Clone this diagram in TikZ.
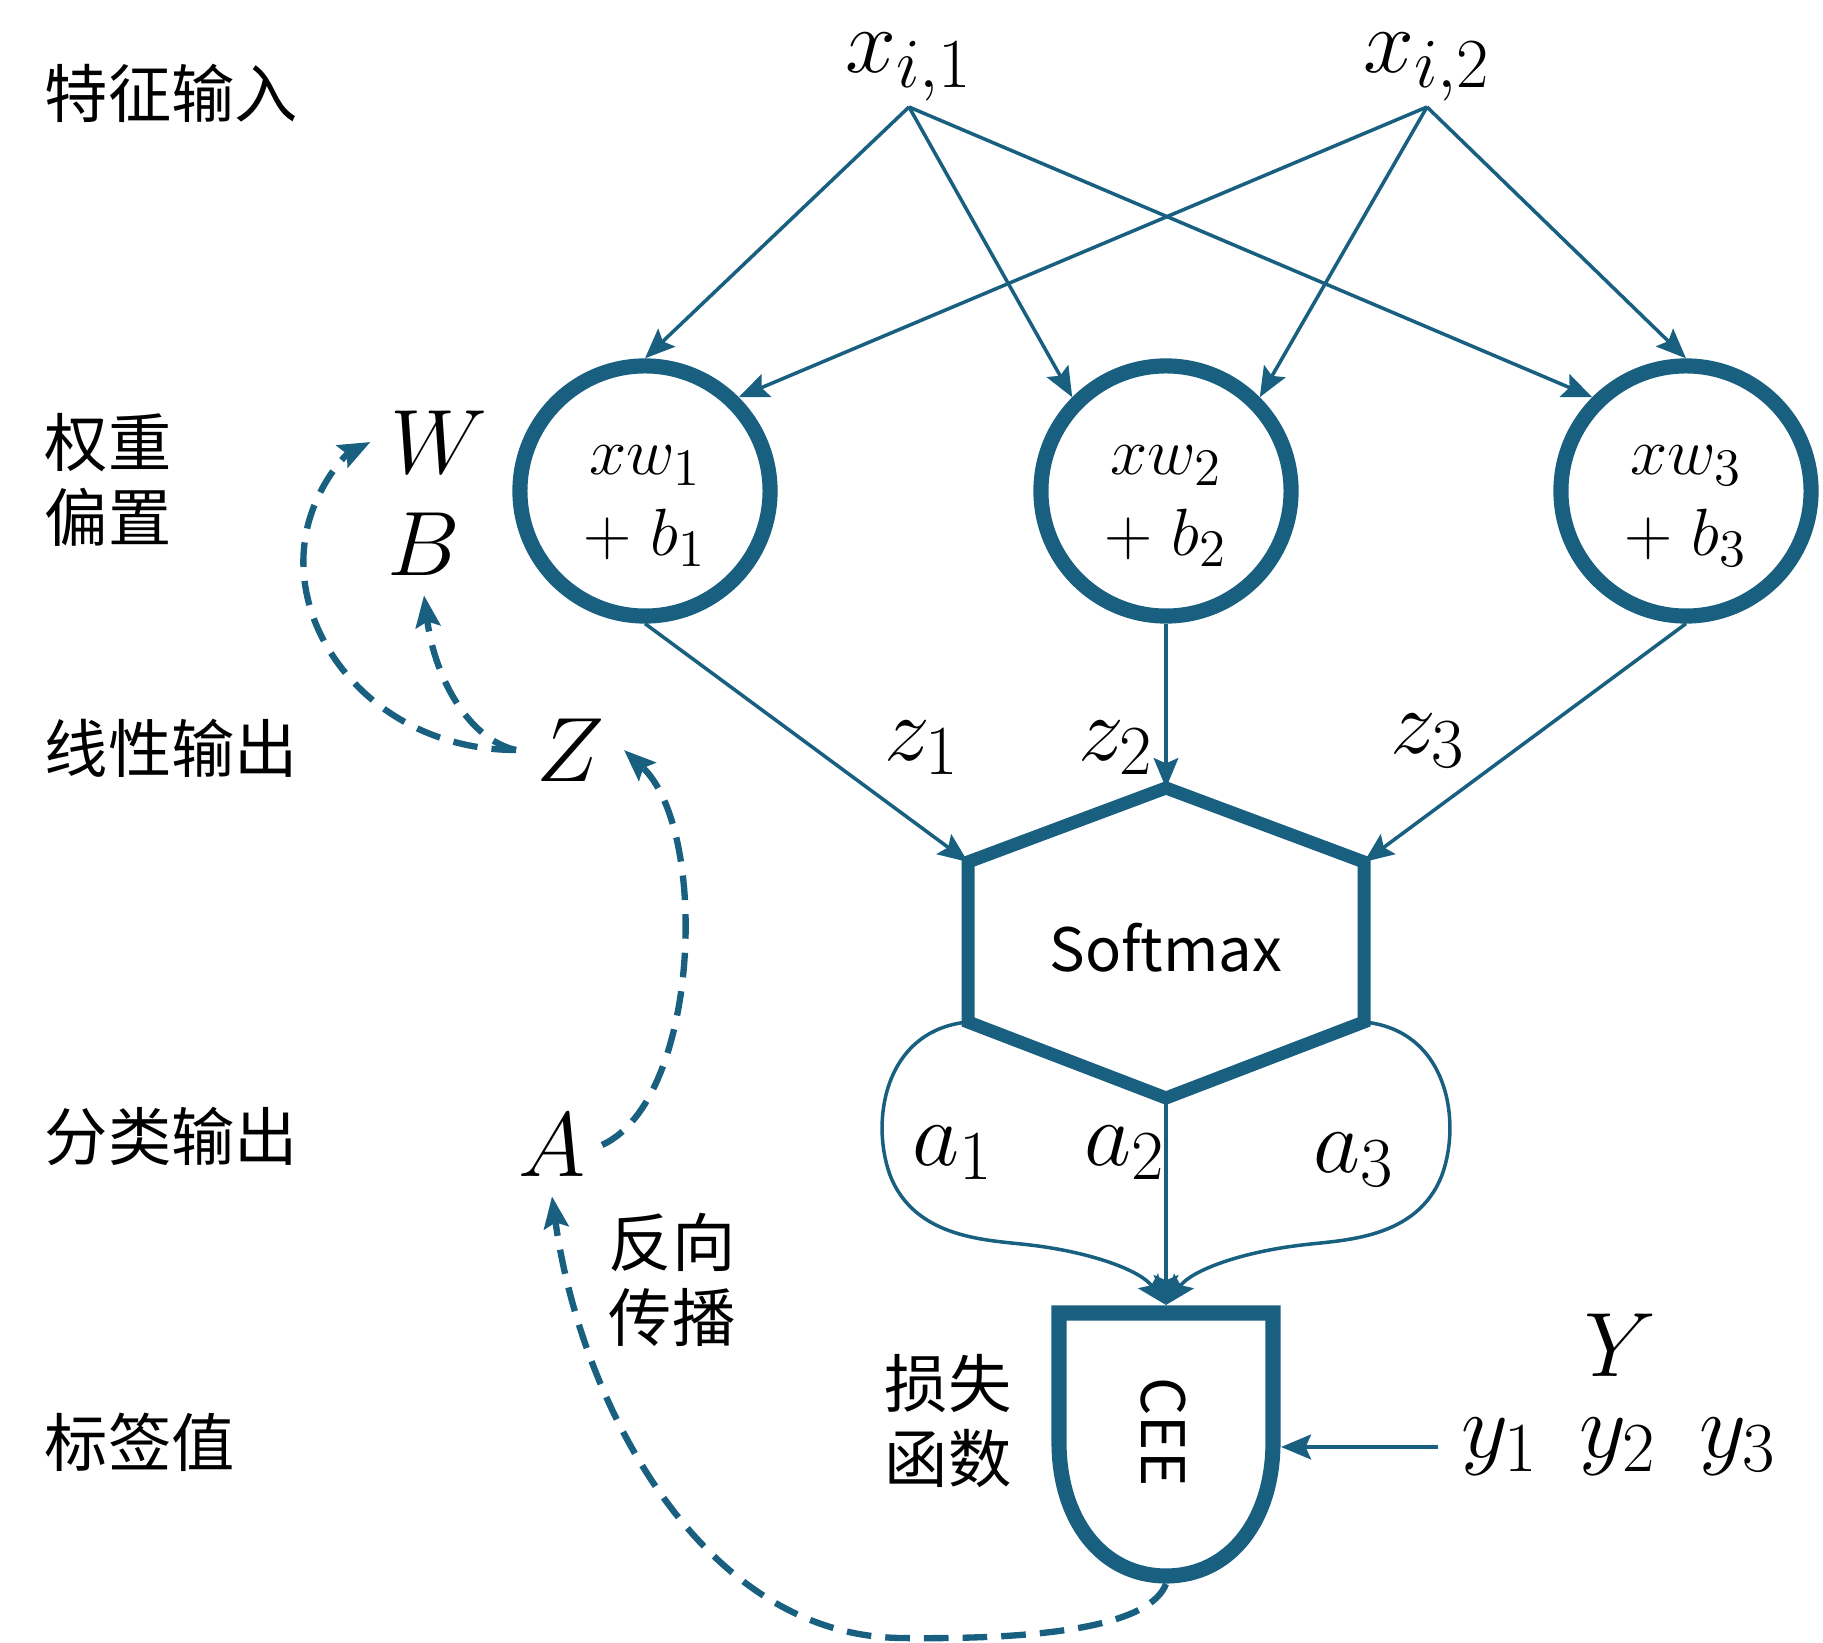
\RequirePackage{fix-cm}
\documentclass[tikz,border=0pt]{standalone}
\usepackage{fontspec}
\newfontfamily\cjk{Noto Sans CJK SC}
\usetikzlibrary{arrows.meta,positioning,calc}
\definecolor{nnblue}{RGB}{24,95,128}
\DeclareMathSizes{26}{26}{20}{15}
\DeclareMathSizes{19}{19}{15}{11}

\begin{document}
\begin{tikzpicture}[x=0.01cm,y=-0.01cm,
  layer/.style={font=\cjk\fontsize{18}{21.5}\selectfont, anchor=west, align=left, inner sep=0pt},
  var/.style={font=\fontsize{26}{30}\selectfont, inner sep=1.5pt},
  neuron/.style={circle, draw=nnblue, line width=4.3pt, minimum size=2.5cm, inner sep=0pt,
    align=center, font=\fontsize{19}{23}\selectfont},
  link/.style={nnblue, line width=1pt, -{Stealth[length=8.5pt,width=7pt,inset=1.5pt]}},
  back/.style={nnblue, line width=1.8pt, dash pattern=on 7pt off 4pt,
    -{Stealth[length=9pt,width=7pt,inset=1.5pt]}},
]
  \useasboundingbox (0,0) rectangle (1823,1643);
  % layer names on the left
  \node[layer] (l1) at (44,93) {特征输入};
  \node[layer] (l2) at (44,480) {权重\\偏置};
  \node[layer] (l3) at (44,748) {线性输出};
  \node[layer] (l4) at (44,1136) {分类输出};
  \node[layer] (l5) at (44,1442) {标签值};
  % inputs
  \node[var, anchor=south] (x1) at (909,107) {$x_{i,1}$};
  \node[var, anchor=south] (x2) at (1427,107) {$x_{i,2}$};
  % neurons
  \node[neuron] (c1) at (645,491) {\rule{0pt}{17pt}$xw_1$\\$+\;b_1$};
  \node[neuron] (c2) at (1166,491) {\rule{0pt}{17pt}$xw_2$\\$+\;b_2$};
  \node[neuron] (c3) at (1686,491) {\rule{0pt}{17pt}$xw_3$\\$+\;b_3$};
  \draw[link] (x1.south) -- (c1.north);
  \draw[link] (x1.south) -- (c2.135);
  \draw[link] (x1.south) -- (c3.135);
  \draw[link] (x2.south) -- (c1.45);
  \draw[link] (x2.south) -- (c2.45);
  \draw[link] (x2.south) -- (c3.north);
  % softmax block
  \coordinate (ht) at (1166,788);
  \coordinate (hul) at (968,862);
  \coordinate (hur) at (1364,862);
  \coordinate (hll) at (968,1022);
  \coordinate (hlr) at (1364,1022);
  \coordinate (hb) at (1166,1098);
  \draw[nnblue, line width=3.7pt] (ht) -- (hur) -- (hlr) -- (hb) -- (hll) -- (hul) -- cycle;
  \node[font=\cjk\fontsize{17}{20}\selectfont] (soft) at (1166,948) {Softmax};
  \draw[link] (c1.south) -- (hul);
  \draw[link] (c2.south) -- (ht);
  \draw[link] (c3.south) -- (hur);
  \node[var] (z1) at (922,748) {$z_1$};
  \node[var] (z2) at (1116,748) {$z_2$};
  \node[var] (z3) at (1428,741) {$z_3$};
  % loss block
  \draw[nnblue, line width=4.3pt] (1059,1313) -- (1273,1313) -- (1273,1442)
    .. controls (1273,1520) and (1230,1576) .. (1166,1576)
    .. controls (1102,1576) and (1059,1520) .. (1059,1442) -- cycle;
  \coordinate (ceeT) at (1166,1305);
  \coordinate (ceeR) at (1281,1445);
  \coordinate (ceeB) at (1166,1584);
  \node[font=\cjk\fontsize{17}{20}\selectfont, rotate=-90] (cee) at (1163,1432) {CEE};
  \node[font=\cjk\fontsize{18}{21.5}\selectfont, align=center] (loss) at (948,1421) {损失\\函数};
  \draw[link] (hll) .. controls (885,1030) and (870,1120) .. (890,1175)
    .. controls (915,1240) and (990,1240) .. (1030,1245)
    .. controls (1090,1252) and (1140,1270) .. (ceeT);
  \draw[link] (hlr) .. controls (1447,1030) and (1462,1120) .. (1442,1175)
    .. controls (1417,1240) and (1342,1240) .. (1302,1245)
    .. controls (1242,1252) and (1192,1270) .. (ceeT);
  \draw[link] (hb) -- (ceeT);
  \node[var] (a1) at (953,1153) {$a_1$};
  \node[var] (a2) at (1125,1153) {$a_2$};
  \node[var] (a3) at (1354,1160) {$a_3$};
  % labels
  \node[var] (Y) at (1620,1345) {$Y$};
  \node[var] (y1) at (1500,1447) {$y_1$};
  \node[var] (y2) at (1618,1447) {$y_2$};
  \node[var] (y3) at (1738,1447) {$y_3$};
  \draw[link, line width=1.3pt] ([xshift=-5pt]y1.west) -- (ceeR |- y1.west);
  % back propagation
  \node[var] (W) at (439,442) {$W$};
  \node[var] (B) at (424,544) {$B$};
  \node[var] (Z) at (570,750) {$Z$};
  \node[var] (A) at (552,1145) {$A$};
  \node[font=\cjk\fontsize{18}{21.5}\selectfont, align=left] (bp) at (672,1280) {反向\\传播};
  \draw[back] (ceeB) .. controls (1150,1625) and (1050,1640) .. (900,1638)
    .. controls (700,1635) and (580,1400) .. ([yshift=-4pt]A.south);
  \draw[back] ([xshift=3pt]A.east) .. controls (700,1100) and (710,830) .. ([xshift=4pt]Z.east);
  \draw[back] ([xshift=-4pt]Z.west) .. controls (380,750) and (290,640) .. (305,540)
    .. controls (312,490) and (345,455) .. ([xshift=-4pt]W.west);
  \draw[back] ([xshift=-4pt]Z.west) .. controls (470,740) and (435,680) .. ([yshift=-4pt]B.south);
\end{tikzpicture}
\end{document}
